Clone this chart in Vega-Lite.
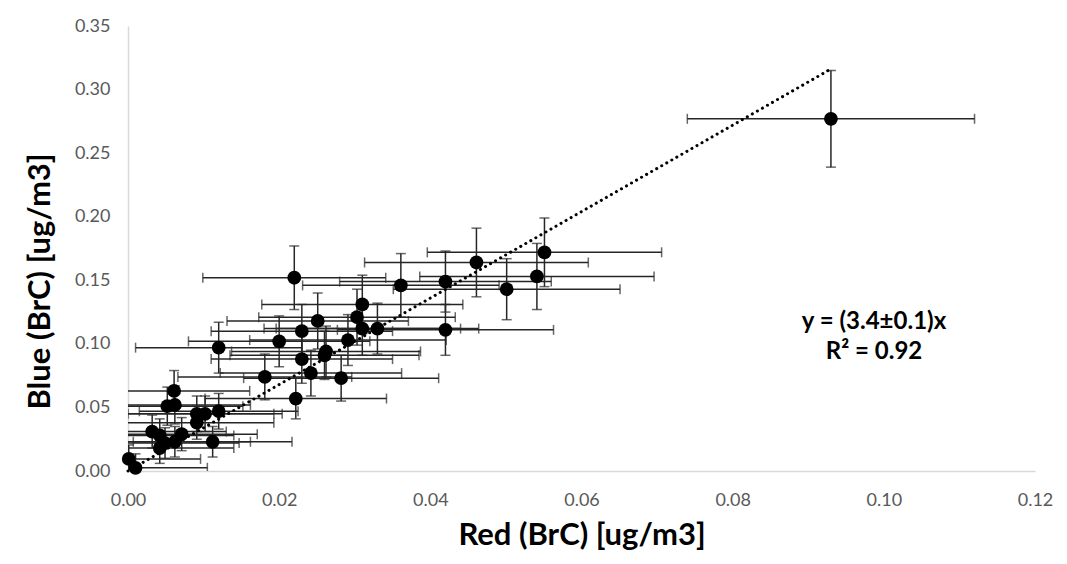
{
  "$schema": "https://vega.github.io/schema/vega-lite/v6.json",
  "width": 907,
  "height": 445,
  "autosize": "none",
  "padding": {"left": 128, "top": 26, "right": 32, "bottom": 93},
  "background": "white",
  "config": {
    "view": {"stroke": null},
    "font": "Lato",
    "axis": {
      "grid": false,
      "ticks": false,
      "labelFlush": false,
      "domainColor": "#d9d9d9",
      "domainWidth": 1.5,
      "labelColor": "#595959",
      "labelFont": "Lato",
      "labelFontSize": 18,
      "titleFont": "Lato",
      "titleFontWeight": "bold",
      "titleFontSize": 31,
      "titleColor": "#000000"
    }
  },
  "datasets": {
    "pts": [
      {"x": 0.093, "y": 0.277, "xlo": 0.074, "xhi": 0.112, "ylo": 0.239, "yhi": 0.315},
      {"x": 0.0551, "y": 0.172, "xlo": 0.0396, "xhi": 0.0706, "ylo": 0.145, "yhi": 0.199},
      {"x": 0.0541, "y": 0.153, "xlo": 0.0386, "xhi": 0.0696, "ylo": 0.127, "yhi": 0.179},
      {"x": 0.0501, "y": 0.143, "xlo": 0.0351, "xhi": 0.0651, "ylo": 0.119, "yhi": 0.167},
      {"x": 0.0461, "y": 0.164, "xlo": 0.0313, "xhi": 0.0609, "ylo": 0.137, "yhi": 0.191},
      {"x": 0.042, "y": 0.149, "xlo": 0.028, "xhi": 0.056, "ylo": 0.125, "yhi": 0.173},
      {"x": 0.042, "y": 0.111, "xlo": 0.0277, "xhi": 0.0563, "ylo": 0.091, "yhi": 0.131},
      {"x": 0.0361, "y": 0.146, "xlo": 0.0231, "xhi": 0.0491, "ylo": 0.121, "yhi": 0.171},
      {"x": 0.033, "y": 0.112, "xlo": 0.0196, "xhi": 0.0464, "ylo": 0.092, "yhi": 0.132},
      {"x": 0.031, "y": 0.131, "xlo": 0.0177, "xhi": 0.0443, "ylo": 0.108, "yhi": 0.154},
      {"x": 0.0303, "y": 0.121, "xlo": 0.0173, "xhi": 0.0433, "ylo": 0.099, "yhi": 0.143},
      {"x": 0.031, "y": 0.112, "xlo": 0.018, "xhi": 0.044, "ylo": 0.091, "yhi": 0.133},
      {"x": 0.0291, "y": 0.103, "xlo": 0.0161, "xhi": 0.0421, "ylo": 0.083, "yhi": 0.123},
      {"x": 0.0251, "y": 0.118, "xlo": 0.0131, "xhi": 0.0371, "ylo": 0.096, "yhi": 0.14},
      {"x": 0.023, "y": 0.11, "xlo": 0.011, "xhi": 0.035, "ylo": 0.089, "yhi": 0.131},
      {"x": 0.022, "y": 0.152, "xlo": 0.0099, "xhi": 0.0341, "ylo": 0.127, "yhi": 0.177},
      {"x": 0.0262, "y": 0.094, "xlo": 0.0137, "xhi": 0.0387, "ylo": 0.074, "yhi": 0.114},
      {"x": 0.026, "y": 0.091, "xlo": 0.0135, "xhi": 0.0385, "ylo": 0.072, "yhi": 0.11},
      {"x": 0.023, "y": 0.088, "xlo": 0.011, "xhi": 0.035, "ylo": 0.069, "yhi": 0.107},
      {"x": 0.0242, "y": 0.077, "xlo": 0.0122, "xhi": 0.0362, "ylo": 0.059, "yhi": 0.095},
      {"x": 0.0282, "y": 0.073, "xlo": 0.0153, "xhi": 0.0411, "ylo": 0.055, "yhi": 0.091},
      {"x": 0.0222, "y": 0.057, "xlo": 0.0102, "xhi": 0.0342, "ylo": 0.041, "yhi": 0.073},
      {"x": 0.0181, "y": 0.074, "xlo": 0.0066, "xhi": 0.0296, "ylo": 0.056, "yhi": 0.092},
      {"x": 0.02, "y": 0.102, "xlo": 0.008, "xhi": 0.032, "ylo": 0.082, "yhi": 0.122},
      {"x": 0.012, "y": 0.097, "xlo": 0.001, "xhi": 0.023, "ylo": 0.077, "yhi": 0.117},
      {"x": 0.012, "y": 0.047, "xlo": 0.0015, "xhi": 0.0225, "ylo": 0.033, "yhi": 0.061},
      {"x": 0.0112, "y": 0.023, "xlo": 0.0007, "xhi": 0.0217, "ylo": 0.011, "yhi": 0.035},
      {"x": 0.0061, "y": 0.063, "xlo": -0.0039, "xhi": 0.0161, "ylo": 0.047, "yhi": 0.079},
      {"x": 0.0052, "y": 0.051, "xlo": -0.0048, "xhi": 0.0152, "ylo": 0.036, "yhi": 0.066},
      {"x": 0.0062, "y": 0.052, "xlo": -0.0038, "xhi": 0.0162, "ylo": 0.037, "yhi": 0.067},
      {"x": 0.0091, "y": 0.045, "xlo": -0.0011, "xhi": 0.0193, "ylo": 0.031, "yhi": 0.059},
      {"x": 0.0102, "y": 0.045, "xlo": 0.0, "xhi": 0.0204, "ylo": 0.031, "yhi": 0.059},
      {"x": 0.0091, "y": 0.038, "xlo": -0.0011, "xhi": 0.0193, "ylo": 0.025, "yhi": 0.051},
      {"x": 0.0032, "y": 0.031, "xlo": -0.0066, "xhi": 0.013, "ylo": 0.018, "yhi": 0.044},
      {"x": 0.0042, "y": 0.028, "xlo": -0.0056, "xhi": 0.014, "ylo": 0.015, "yhi": 0.041},
      {"x": 0.0071, "y": 0.029, "xlo": -0.0029, "xhi": 0.0171, "ylo": 0.016, "yhi": 0.042},
      {"x": 0.0049, "y": 0.022, "xlo": -0.0049, "xhi": 0.0147, "ylo": 0.01, "yhi": 0.034},
      {"x": 0.0062, "y": 0.023, "xlo": -0.0038, "xhi": 0.0162, "ylo": 0.011, "yhi": 0.035},
      {"x": 0.0042, "y": 0.018, "xlo": -0.0056, "xhi": 0.014, "ylo": 0.006, "yhi": 0.03},
      {"x": 0.0001, "y": 0.0095, "xlo": -0.0094, "xhi": 0.0096, "ylo": -0.0015, "yhi": 0.0205},
      {"x": 0.001, "y": 0.0025, "xlo": -0.0085, "xhi": 0.0105, "ylo": -0.0085, "yhi": 0.0135}
    ],
    "trend": [
      {"x": 0.0, "y": 0.0},
      {"x": 0.093, "y": 0.3162}
    ],
    "notes": [
      {"x": 0.0987, "y": 0.1172, "t": "y = (3.4±0.1)x"},
      {"x": 0.0987, "y": 0.0936, "t": "R² = 0.92"}
    ]
  },
  "layer": [
    {
      "data": {"name": "pts"},
      "mark": {"type": "rule", "color": "#262626", "strokeWidth": 1.5, "clip": true},
      "encoding": {
        "x": {"field": "xlo", "type": "quantitative", "scale": {"domain": [0, 0.12], "nice": false, "padding": 0, "zero": false},
              "axis": {"values": [0, 0.02, 0.04, 0.06, 0.08, 0.1, 0.12], "format": ".2f", "labelPadding": 20, "title": "Red (BrC) [ug/m3]", "titlePadding": 11}},
        "x2": {"field": "xhi"},
        "y": {"field": "y", "type": "quantitative", "scale": {"domain": [0, 0.35], "nice": false, "padding": 0, "zero": false},
              "axis": {"values": [0, 0.05, 0.1, 0.15, 0.2, 0.25, 0.3, 0.35], "format": ".2f", "labelPadding": 18, "title": "Blue (BrC) [ug/m3]", "titlePadding": 18, "titleY": 255}}
      }
    },
    {
      "data": {"name": "pts"},
      "mark": {"type": "tick", "orient": "vertical", "color": "#262626", "thickness": 1.5, "size": 10, "clip": true},
      "encoding": {
        "x": {"field": "xlo", "type": "quantitative"},
        "y": {"field": "y", "type": "quantitative"}
      }
    },
    {
      "data": {"name": "pts"},
      "mark": {"type": "tick", "orient": "vertical", "color": "#262626", "thickness": 1.5, "size": 10, "clip": true},
      "encoding": {
        "x": {"field": "xhi", "type": "quantitative"},
        "y": {"field": "y", "type": "quantitative"}
      }
    },
    {
      "data": {"name": "pts"},
      "mark": {"type": "rule", "color": "#262626", "strokeWidth": 1.5, "clip": true},
      "encoding": {
        "x": {"field": "x", "type": "quantitative"},
        "y": {"field": "ylo", "type": "quantitative"},
        "y2": {"field": "yhi"}
      }
    },
    {
      "data": {"name": "pts"},
      "mark": {"type": "tick", "orient": "horizontal", "color": "#262626", "thickness": 1.5, "size": 10, "clip": true},
      "encoding": {
        "x": {"field": "x", "type": "quantitative"},
        "y": {"field": "ylo", "type": "quantitative"}
      }
    },
    {
      "data": {"name": "pts"},
      "mark": {"type": "tick", "orient": "horizontal", "color": "#262626", "thickness": 1.5, "size": 10, "clip": true},
      "encoding": {
        "x": {"field": "x", "type": "quantitative"},
        "y": {"field": "yhi", "type": "quantitative"}
      }
    },
    {
      "data": {"name": "trend"},
      "mark": {"type": "line", "color": "#000000", "strokeWidth": 3, "strokeDash": [0.1, 5.7], "strokeCap": "round"},
      "encoding": {
        "x": {"field": "x", "type": "quantitative"},
        "y": {"field": "y", "type": "quantitative"}
      }
    },
    {
      "data": {"name": "pts"},
      "mark": {"type": "circle", "color": "#000000", "opacity": 1, "size": 190},
      "encoding": {
        "x": {"field": "x", "type": "quantitative"},
        "y": {"field": "y", "type": "quantitative"}
      }
    },
    {
      "data": {"name": "notes"},
      "mark": {"type": "text", "font": "Lato", "fontWeight": "bold", "fontSize": 24, "color": "#000000", "align": "center", "baseline": "middle"},
      "encoding": {
        "x": {"field": "x", "type": "quantitative"},
        "y": {"field": "y", "type": "quantitative"},
        "text": {"field": "t", "type": "nominal"}
      }
    }
  ]
}
